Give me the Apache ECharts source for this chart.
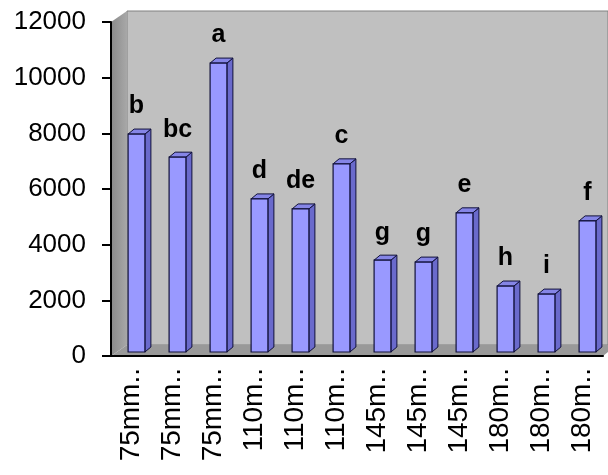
<!DOCTYPE html>
<html>
<head>
<meta charset="utf-8">
<script src="https://cdn.jsdelivr.net/npm/echarts@6/dist/echarts.min.js"></script>
<style>
  html, body { margin: 0; padding: 0; background: #fff; }
  #chart { width: 608px; height: 475px; }
</style>
</head>
<body>
<div id="chart"></div>
<script>
const categories = ['75mm..', '75mm..', '75mm..', '110m..', '110m..', '110m..',
                    '145m..', '145m..', '145m..', '180m..', '180m..', '180m..'];
const values = [7830, 7000, 10380, 5500, 5140, 6760, 3300, 3230, 5000, 2370, 2080, 4710];
const letters = ['b', 'bc', 'a', 'd', 'de', 'c', 'g', 'g', 'e', 'h', 'i', 'f'];
const yTicks = { min: 0, max: 12000, interval: 2000 };

// plot box (front plane) and 3D depth of the walls
const L = 111, T = 22, R = 603, B = 356;
const wallDx = 16, wallDy = -11;

const chart = echarts.init(document.getElementById('chart'));

chart.setOption({
  animation: false,
  textStyle: { fontFamily: 'Liberation Sans, Arial, sans-serif' },
  grid: { left: L, right: 608 - R, top: T, bottom: 475 - B, outerBoundsMode: 'none' },
  graphic: [
    {
      // back wall
      type: 'polygon', z: -5,
      shape: { points: [[L + wallDx, T + wallDy], [608, T + wallDy], [608, B + wallDy], [L + wallDx, B + wallDy]] },
      style: { fill: '#c0c0c0', stroke: '#808080', lineWidth: 1 }
    },
    {
      // left side wall
      type: 'polygon', z: -4,
      shape: { points: [[L, T], [L + wallDx, T + wallDy], [L + wallDx, B + wallDy], [L, B]] },
      style: {
        fill: new echarts.graphic.LinearGradient(0, 0, 1, 0, [
          { offset: 0, color: '#8a8a8a' }, { offset: 1, color: '#a8a8a8' }
        ])
      }
    },
    {
      // floor
      type: 'polygon', z: -4,
      shape: { points: [[L, B], [L + wallDx, B + wallDy], [608, B + wallDy], [608, B - 4], [R, B]] },
      style: { fill: '#999999' }
    }
  ],
  xAxis: {
    type: 'category',
    data: categories,
    axisLine: { lineStyle: { color: '#000', width: 2 } },
    axisTick: { length: 8, lineStyle: { color: '#000', width: 2 } },
    axisLabel: { rotate: 90, interval: 0, margin: 12, fontSize: 28, color: '#000' },
    splitLine: { show: false }
  },
  yAxis: {
    type: 'value',
    min: yTicks.min,
    max: yTicks.max,
    interval: yTicks.interval,
    axisLine: { show: true, lineStyle: { color: '#000', width: 2 } },
    axisTick: { show: true, length: 9, lineStyle: { color: '#000', width: 2 } },
    axisLabel: { margin: 25, fontSize: 26, color: '#000', formatter: v => String(v) },
    splitLine: { show: false }
  },
  series: [{
    type: 'custom',
    data: values.map((v, i) => [i, v]),
    renderItem: function (params, api) {
      const top = api.coord([api.value(0), api.value(1)]);
      const base = api.coord([api.value(0), 0]);
      const hw = api.size([1, 0])[0] * 0.205;
      const sx = 5, sy = -4;   // bars sit a little behind the front axis
      const dx = 6, dy = -5;   // depth of each column
      const x0 = top[0] + sx - hw, x1 = top[0] + sx + hw;
      const yt = top[1] + sy, yb = base[1] + sy;
      const edge = '#10103a';
      return {
        type: 'group',
        children: [
          { type: 'polygon', shape: { points: [[x1, yb], [x1, yt], [x1 + dx, yt + dy], [x1 + dx, yb + dy]] },
            style: { fill: '#6a6acc', stroke: edge, lineWidth: 1 } },
          { type: 'polygon', shape: { points: [[x0, yt], [x1, yt], [x1 + dx, yt + dy], [x0 + dx, yt + dy]] },
            style: { fill: '#8585e6', stroke: edge, lineWidth: 1 } },
          { type: 'rect', shape: { x: x0, y: yt, width: x1 - x0, height: yb - yt },
            style: { fill: '#9999ff', stroke: edge, lineWidth: 1.2 } },
          { type: 'text',
            style: { text: letters[params.dataIndex], x: (x0 + x1) / 2, y: yt + dy - 10,
                     align: 'center', verticalAlign: 'bottom',
                     font: 'bold 25px "Liberation Sans", Arial, sans-serif', fill: '#000' } }
        ]
      };
    }
  }]
});
</script>
</body>
</html>
